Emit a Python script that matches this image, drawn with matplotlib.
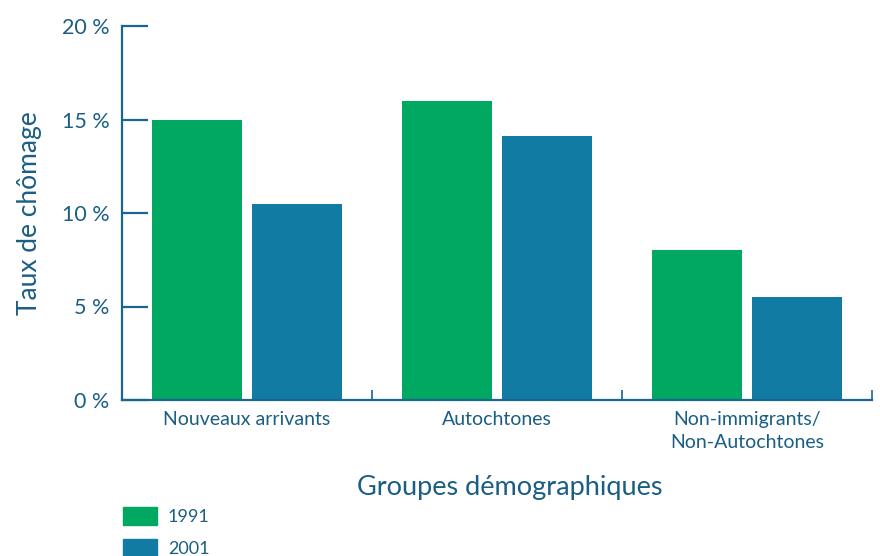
"""
Taux de chômage par groupe démographique, 1991 et 2001.
"""
import matplotlib
matplotlib.use("Agg")
import matplotlib.pyplot as plt
from matplotlib.patches import Rectangle
import numpy as np

# ── Données ────────────────────────────────────────────────────
groupes = ["Nouveaux arrivants", "Autochtones", "Non-immigrants/\nNon-Autochtones"]
annees = ["1991", "2001"]
taux_1991 = [15.0, 16.0, 8.0]
taux_2001 = [10.5, 14.1, 5.5]
yticks = [0, 5, 10, 15, 20]

# ── Style ──────────────────────────────────────────────────────
VERT = "#00A862"
BLEU = "#127BA3"
TEXTE = "#1A5E84"
AXE = "#1B6690"
plt.rcParams["font.family"] = ["Lato", "DejaVu Sans"]

W, H = 880, 556
fig = plt.figure(figsize=(W / 100, H / 100), dpi=100)
ax = fig.add_axes([122 / W, 1 - 400 / H, 750 / W, 374 / H])

x = np.arange(len(groupes))
ax.bar(x - 0.2, taux_1991, width=0.36, color=VERT, zorder=2)
ax.bar(x + 0.2, taux_2001, width=0.36, color=BLEU, zorder=2)

ax.set_xlim(-0.5, len(groupes) - 0.5)
ax.set_ylim(0, 20)

for side in ["top", "right"]:
    ax.spines[side].set_visible(False)
for side in ["left", "bottom"]:
    ax.spines[side].set_color(AXE)
    ax.spines[side].set_linewidth(1.6)

# graduations y (vers l'intérieur)
ax.set_yticks(yticks)
ax.set_yticklabels([f"{v} %" for v in yticks], fontsize=15.5, color=TEXTE)
ax.tick_params(axis="y", direction="in", length=19, width=1.6, color=AXE, pad=9)

# graduations x : limites des catégories
ax.set_xticks(x)
ax.set_xticklabels(groupes, fontsize=14, color=TEXTE, linespacing=1.4)
ax.tick_params(axis="x", length=0, pad=8)
ax.set_xticks(np.arange(len(groupes)) + 0.5, minor=True)
ax.tick_params(axis="x", which="minor", direction="in", length=7, width=1.2, color=AXE)

ax.set_ylabel("Taux de chômage", fontsize=19, color=TEXTE, labelpad=14)
fig.text(510 / W, 1 - 487 / H, "Groupes démographiques", fontsize=19.5,
         color=TEXTE, ha="center", va="center")

# légende manuelle
for i, (annee, couleur) in enumerate(zip(annees, [VERT, BLEU])):
    y0 = 507 + i * 32
    fig.patches.append(Rectangle((123 / W, 1 - (y0 + 18) / H), 34 / W, 18 / H,
                                 transform=fig.transFigure, color=couleur))
    fig.text(168 / W, 1 - (y0 + 10) / H, annee, fontsize=13, color=TEXTE,
             va="center", ha="left")

fig.savefig("out.png", dpi=100)
